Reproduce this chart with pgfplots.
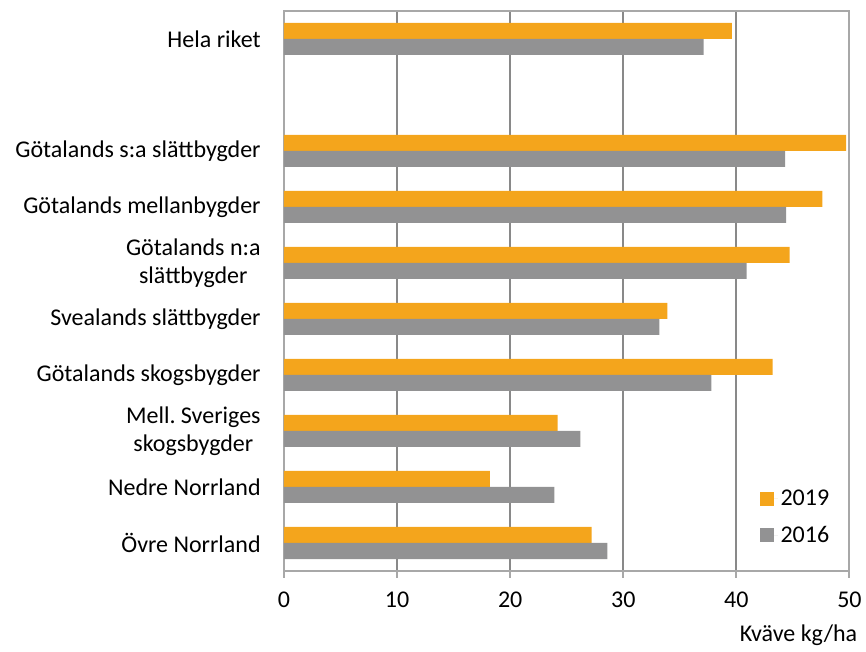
\documentclass[border=0pt]{standalone}
\usepackage{fontspec}
\setmainfont{Carlito}
\usepackage{pgfplots}
\pgfplotsset{compat=1.18}

\definecolor{bar19}{RGB}{244,165,28}
\definecolor{bar16}{RGB}{146,146,147}
\definecolor{gridc}{RGB}{137,137,137}
\definecolor{axisc}{RGB}{168,168,168}

\begin{document}
\begin{tikzpicture}
\begin{axis}[
  scale only axis,
  width=424.1pt, height=420pt,
  xbar, bar width=12pt,
  xmin=0, xmax=50, ymin=-0.5, ymax=9.5,
  xtick={0,10,...,50},
  ytick={0,1,2,3,4,5,6,7,9},
  yticklabels={Övre Norrland, Nedre Norrland, {Mell.\ Sveriges\\skogsbygder\ }, Götalands skogsbygder, Svealands slättbygder, {Götalands n:a\\slättbygder\ }, Götalands mellanbygder, Götalands s:a slättbygder, Hela riket},
  font=\fontsize{18}{21}\selectfont,
  /pgf/number format/assume math mode=true,
  yticklabel style={align=center, font=\fontsize{18}{21}\selectfont, xshift=-9pt},
  xticklabel style={font=\fontsize{18}{21}\selectfont, anchor=base, yshift=-22pt},
  y tick style={draw=none},
  x tick style={axisc, line width=1.5pt},
  xtick pos=bottom, tick align=outside, major tick length=5pt,
  axis line style={axisc, line width=1.5pt},
  xmajorgrids, grid style={gridc, line width=1.5pt},
  axis on top=false,
  xlabel={Kväve kg/ha},
  xlabel style={at={(rel axis cs:1,0)}, anchor=base east, yshift=-52.5pt, xshift=6pt, inner sep=0pt},
  legend style={at={(rel axis cs:0.834,0.155)}, anchor=north west, draw=none, fill=none,
    font=\fontsize{18}{21}\selectfont, row sep=10pt},
  legend cell align=left,
  legend image code/.code={%
    \fill[#1] (0pt,-5.25pt) rectangle (10.5pt,5.25pt);
    \path (10.5pt,0pt) -- (13.5pt,0pt);},
  clip=false,
]
% 2019
\addplot[fill=bar19, draw=none, bar shift=6pt] coordinates {
  (27.2,0) (18.2,1) (24.2,2) (43.2,3) (33.9,4) (44.7,5) (47.6,6) (49.7,7) (39.6,9)
};
% 2016
\addplot[fill=bar16, draw=none, bar shift=-6pt] coordinates {
  (28.6,0) (23.9,1) (26.2,2) (37.8,3) (33.2,4) (40.9,5) (44.4,6) (44.3,7) (37.1,9)
};
\legend{2019, 2016}
\coordinate (O) at (rel axis cs:0,0);
\end{axis}
\pgfresetboundingbox
\path ([shift={(-213pt,-60.75pt)}]O) rectangle ([shift={(436.5pt,428.25pt)}]O);
\end{tikzpicture}
\end{document}
